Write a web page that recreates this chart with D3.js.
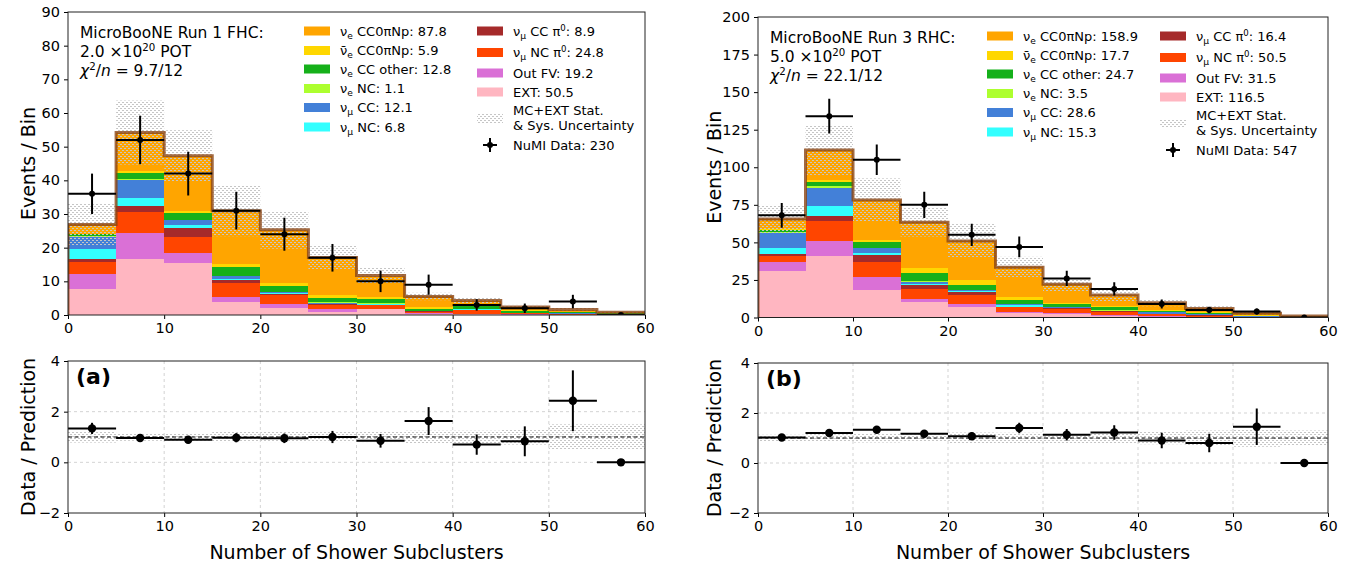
<!DOCTYPE html>
<html><head><meta charset="utf-8">
<script src="https://cdn.jsdelivr.net/npm/d3@7"></script>
<style>
body{margin:0;background:#fff}
svg{display:block}
text{font-family:"DejaVu Sans",sans-serif;fill:#000}
</style>
</head><body>
<svg id="c" width="1361" height="570"></svg>
<script>
// ---------------- DATA ----------------
const binLo = [0,5,10,15,20,25,30,35,40,45,50,55];
const binWidth = 5;
const xTicks = [0,10,20,30,40,50,60];
const yTicksRun1 = [0,10,20,30,40,50,60,70,80,90];
const yTicksRun3 = [0,25,50,75,100,125,150,175,200];
const yTicksRatio = [-2,0,2,4];

// Run 1 FHC stacked components (events / bin)
const r1_ext        = [7.7,16.6,15.5,3.9,2.1,0.9,1.7,0.3,0.2,0.1,0.05,0.0];
const r1_outfv      = [4.5,7.7,2.8,1.4,1.3,0.9,0.2,0.2,0.1,0.1,0.05,0.05];
const r1_ncpi0      = [3.5,6.4,4.8,4.2,2.4,1.2,1.0,0.5,1.2,0.3,0.2,0.05];
const r1_ccpi0      = [0.9,1.6,2.7,0.8,0.4,0.2,0.2,0.1,0.1,0.1,0.05,0.05];
const r1_numunc     = [3.0,2.4,0.9,0.5,0.2,0.2,0.1,0.05,0.1,0.05,0.05,0.05];
const r1_numucc     = [3.6,5.4,1.5,0.8,0.4,0.3,0.2,0.05,0.1,0.05,0.05,0.05];
const r1_nuenc      = [0.3,0.4,0.1,0.05,0.05,0.05,0.05,0.02,0.02,0.02,0.01,0.01];
const r1_nueccother = [0.5,1.6,1.9,2.65,1.75,1.25,1.25,0.68,0.98,0.58,0.34,0.19];
const r1_nuebar     = [0.2,0.7,0.7,0.9,0.9,0.8,0.6,0.4,0.5,0.2,0.1,0.05];
const r1_nue0pnp    = [2.7,11.4,16.4,15.8,15.8,11.3,6.4,3.2,1.0,0.9,0.7,0.3];
const r1_data       = [36,52,42,31,24,17,10,9,3,2,4,0];
const r1_dataErr    = [6.0,7.2,6.5,5.6,4.9,4.1,3.2,3.0,1.7,1.4,2.0,0];
const r1_unc        = [6.2,9.5,7.6,7.6,5.6,3.7,2.4,1.1,1.0,0.6,0.7,0.4];
const r1_ratio      = [1.34,0.96,0.89,0.97,0.95,1.0,0.85,1.63,0.7,0.83,2.43,0];
const r1_ratioErr   = [0.22,0.13,0.14,0.18,0.19,0.24,0.27,0.55,0.4,0.59,1.2,0];
const r1_ratioUnc   = [0.22,0.15,0.15,0.2,0.2,0.2,0.2,0.25,0.25,0.3,0.5,0.5];
const r1_legendTotals = [87.8,5.9,12.8,1.1,12.1,6.8,8.9,24.8,19.2,50.5];
const r1_dataTotal = 230;

// Run 3 RHC stacked components (events / bin)
const r3_ext        = [30.9,41.2,18.3,10.3,7.0,2.8,2.5,0.8,0.3,0.1,0.05,0];
const r3_outfv      = [6.0,9.7,8.7,2.0,2.0,1.1,0.5,1.0,0.9,0.2,0.05,0.05];
const r3_ncpi0      = [4.3,13.3,9.9,6.7,6.0,2.9,2.5,1.7,0.8,0.9,0.3,0.05];
const r3_ccpi0      = [1.1,3.1,4.9,2.4,2.2,0.4,0.7,0.5,0.3,0.3,0.1,0.05];
const r3_numunc     = [4.0,6.9,1.3,1.1,0.4,0.8,0.3,0.3,0.3,0.2,0.1,0.05];
const r3_numucc     = [9.7,12.0,3.0,1.3,0.7,0.8,0.3,0.3,0.8,0.3,0.1,0.05];
const r3_nuenc      = [0.8,1.0,0.4,0.3,0.2,0.2,0.1,0.1,0.1,0.1,0.05,0.05];
const r3_nueccother = [1.2,3.0,3.7,5.3,3.1,2.6,1.8,2.1,1.0,0.9,0.35,0.1];
const r3_nuebar     = [0.7,1.1,1.6,3.5,3.4,2.0,0.9,0.8,0.7,0.6,0.3,0.1];
const r3_nue0pnp    = [6.9,20.2,26.4,30.5,25.9,19.8,12.5,7.4,4.6,2.4,1.4,0.5];
const r3_data       = [68,134,105,75,55,47,26,19,9,5,4,0];
const r3_dataErr    = [8.2,11.6,10.2,8.7,7.4,6.9,5.1,4.4,3.0,2.2,2.0,0];
const r3_unc        = [9.3,16.6,14.4,9.5,11.3,7.0,4.5,4.4,2.3,1.5,0.8,0.4];
const r3_ratio      = [1.02,1.2,1.33,1.17,1.07,1.4,1.13,1.22,0.9,0.8,1.45,0];
const r3_ratioErr   = [0.12,0.1,0.13,0.14,0.15,0.21,0.23,0.29,0.31,0.37,0.73,0];
const r3_ratioUnc   = [0.13,0.15,0.18,0.15,0.22,0.21,0.2,0.22,0.25,0.3,0.35,0.3];
const r3_legendTotals = [158.9,17.7,24.7,3.5,28.6,15.3,16.4,50.5,31.5,116.5];
const r3_dataTotal = 547;

// ---------------- STYLE / LAYOUT ----------------
const keys = ["ext","outfv","ncpi0","ccpi0","numunc","numucc","nuenc","nueccother","nuebar","nue0pnp"];
const colors = {ext:"#ffb6c1",outfv:"#da70d6",ncpi0:"#ff4500",ccpi0:"#a52a2a",numunc:"#33ffff",
  numucc:"#4380d8",nuenc:"#adff2f",nueccother:"#15b01a",nuebar:"#ffd700",nue0pnp:"#ffa500"};
const legendCol1 = ["nue0pnp","nuebar","nueccother","nuenc","numucc","numunc"];
const legendCol2 = ["ccpi0","ncpi0","outfv","ext"];
const legendLabel = {
  nue0pnp:v=>[["ν"],["e","sub"],[" CC0πNp: "+v]],
  nuebar:v=>[["ν̄"],["e","sub"],[" CC0πNp: "+v]],
  nueccother:v=>[["ν"],["e","sub"],[" CC other: "+v]],
  nuenc:v=>[["ν"],["e","sub"],[" NC: "+v]],
  numucc:v=>[["ν"],["μ","sub"],[" CC: "+v]],
  numunc:v=>[["ν"],["μ","sub"],[" NC: "+v]],
  ccpi0:v=>[["ν"],["μ","sub"],[" CC π"],["0","sup"],[": "+v]],
  ncpi0:v=>[["ν"],["μ","sub"],[" NC π"],["0","sup"],[": "+v]],
  outfv:v=>[["Out FV: "+v]],
  ext:v=>[["EXT: "+v]]
};
const legendIdx = {nue0pnp:0,nuebar:1,nueccother:2,nuenc:3,numucc:4,numunc:5,ccpi0:6,ncpi0:7,outfv:8,ext:9};

const svg = d3.select("#c");
const defs = svg.append("defs");
const pat = defs.append("pattern").attr("id","hatch").attr("width",4).attr("height",4)
  .attr("patternUnits","userSpaceOnUse");
pat.append("rect").attr("x",0).attr("y",0).attr("width",2).attr("height",1).attr("fill","#c6c6c6");
pat.append("rect").attr("x",2).attr("y",2).attr("width",2).attr("height",1).attr("fill","#c6c6c6");

const FS_TICK = 14.5, FS_LAB = 19, FS_LEG = 13, FS_ANN = 15.5;

function rich(sel, segs){
  let off = 0;
  const fs = +sel.attr("data-fs");
  segs.forEach(([s,k])=>{
    const t = sel.append("tspan").text(s);
    let target = 0;
    if(k==="sub"){ t.attr("font-size","70%"); target = 0.26; }
    else if(k==="sup"){ t.attr("font-size","66%"); target = -0.36; }
    else if(k==="it"){ t.attr("font-style","italic"); }
    const d = target - off;
    if(d!==0) t.attr("dy", (d*fs)+"px");
    off = target;
  });
}

function drawPanel(c){
  const rows = binLo.map((lo,i)=>{
    const r = {lo};
    keys.forEach(k=>r[k]=c.comp[k][i]);
    return r;
  });
  const stacked = d3.stack().keys(keys)(rows);
  const totals = rows.map(r=>d3.sum(keys,k=>r[k]));

  const x = d3.scaleLinear().domain([0,60]).range([c.left,c.right]);
  const y = d3.scaleLinear().domain([0,c.ymax]).range([c.bottom,c.top]);
  const yr = d3.scaleLinear().domain([-2,4]).range([c.rBottom,c.rTop]);

  const cid = "clip"+c.id, rcid = "rclip"+c.id;
  defs.append("clipPath").attr("id",cid).append("rect")
    .attr("x",c.left).attr("y",c.top).attr("width",c.right-c.left).attr("height",c.bottom-c.top);
  defs.append("clipPath").attr("id",rcid).append("rect")
    .attr("x",c.left).attr("y",c.rTop).attr("width",c.right-c.left).attr("height",c.rBottom-c.rTop);

  // ---- top panel ----
  const g = svg.append("g").attr("clip-path",`url(#${cid})`);
  stacked.forEach(layer=>{
    g.selectAll(null).data(layer).enter().append("rect")
      .attr("x",d=>x(d.data.lo)).attr("width",d=>x(d.data.lo+binWidth)-x(d.data.lo))
      .attr("y",d=>y(d[1])).attr("height",d=>Math.max(0,y(d[0])-y(d[1])))
      .attr("fill",colors[layer.key]).attr("shape-rendering","crispEdges");
  });
  g.selectAll(null).data(binLo).enter().append("rect")
    .attr("x",(d)=>x(d)).attr("width",d=>x(d+binWidth)-x(d))
    .attr("y",(d,i)=>y(totals[i]+c.unc[i]))
    .attr("height",(d,i)=>y(Math.max(0,totals[i]-c.unc[i]))-y(totals[i]+c.unc[i]))
    .attr("fill","url(#hatch)");
  const pts = [[x(0),y(0)]];
  binLo.forEach((lo,i)=>{pts.push([x(lo),y(totals[i])]); pts.push([x(lo+binWidth),y(totals[i])]);});
  pts.push([x(60),y(0)]);
  g.append("path").attr("d",d3.line()(pts)).attr("fill","none")
    .attr("stroke","#8b4513").attr("stroke-opacity",0.8).attr("stroke-width",3).attr("stroke-linejoin","miter");
  binLo.forEach((lo,i)=>{
    const cx = x(lo+binWidth/2), cy = y(c.data[i]);
    g.append("line").attr("x1",x(lo)).attr("x2",x(lo+binWidth)).attr("y1",cy).attr("y2",cy)
      .attr("stroke","#000").attr("stroke-width",2);
    if(c.dataErr[i]>0) g.append("line").attr("x1",cx).attr("x2",cx)
      .attr("y1",y(c.data[i]-c.dataErr[i])).attr("y2",y(c.data[i]+c.dataErr[i]))
      .attr("stroke","#000").attr("stroke-width",2);
    g.append("circle").attr("cx",cx).attr("cy",cy).attr("r",3).attr("fill","#000");
  });

  const ax = svg.append("g").attr("transform",`translate(0,${c.bottom})`)
    .call(d3.axisBottom(x).tickValues(xTicks).tickSize(4).tickPadding(4).tickFormat(d3.format("d")));
  const ay = svg.append("g").attr("transform",`translate(${c.left},0)`)
    .call(d3.axisLeft(y).tickValues(c.yTicks).tickSize(4).tickPadding(4).tickFormat(d3.format("d")));
  [ax,ay].forEach(a=>{a.select(".domain").remove(); a.selectAll("text").attr("font-size",FS_TICK).attr("font-family","DejaVu Sans");});
  svg.append("rect").attr("x",c.left).attr("y",c.top).attr("width",c.right-c.left).attr("height",c.bottom-c.top)
    .attr("fill","none").attr("stroke","#222").attr("stroke-width",1);

  svg.append("text").attr("transform",`translate(${c.ylabX},${(c.top+c.bottom)/2}) rotate(-90)`)
    .attr("text-anchor","middle").attr("font-size",FS_LAB).text("Events / Bin");

  const ann = svg.append("g").attr("font-size",FS_ANN);
  ann.append("text").attr("x",c.left+12).attr("y",c.top+26).text(c.title);
  const t2 = ann.append("text").attr("x",c.left+12).attr("y",c.top+44.5).attr("data-fs",FS_ANN);
  rich(t2,[[c.pot+" ×10"],["20","sup"],[" POT"]]);
  const t3 = ann.append("text").attr("x",c.left+12).attr("y",c.top+63.5).attr("data-fs",FS_ANN);
  rich(t3,[["χ","it"],["2","sup"],["/"],["n","it"],[" = "+c.chi2]]);

  const lg = svg.append("g").attr("font-size",FS_LEG);
  const col1Off = [19,38.5,57,76.5,95.5,115], col2Off=[19,40.5,61,80];
  legendCol1.forEach((k,i)=>{
    const cy = c.top+col1Off[i];
    lg.append("rect").attr("x",c.right-341).attr("y",cy-4.5).attr("width",26).attr("height",9).attr("fill",colors[k]);
    const t = lg.append("text").attr("x",c.right-305).attr("y",cy+4.5).attr("data-fs",FS_LEG);
    rich(t, legendLabel[k](c.legendTotals[legendIdx[k]].toFixed(1)));
  });
  legendCol2.forEach((k,i)=>{
    const cy = c.top+col2Off[i];
    lg.append("rect").attr("x",c.right-168).attr("y",cy-4.5).attr("width",26).attr("height",9).attr("fill",colors[k]);
    const t = lg.append("text").attr("x",c.right-132).attr("y",cy+4.5).attr("data-fs",FS_LEG);
    rich(t, legendLabel[k](c.legendTotals[legendIdx[k]].toFixed(1)));
  });
  lg.append("rect").attr("x",c.right-168).attr("y",c.top+102).attr("width",26).attr("height",9).attr("fill","url(#hatch)");
  lg.append("text").attr("x",c.right-132).attr("y",c.top+103).text("MC+EXT Stat.");
  lg.append("text").attr("x",c.right-132).attr("y",c.top+118).text("& Sys. Uncertainty");
  const mx = c.right-155, my = c.top+133;
  lg.append("line").attr("x1",mx-7).attr("x2",mx+7).attr("y1",my).attr("y2",my).attr("stroke","#000").attr("stroke-width",2);
  lg.append("line").attr("x1",mx).attr("x2",mx).attr("y1",my-7).attr("y2",my+7).attr("stroke","#000").attr("stroke-width",2);
  lg.append("circle").attr("cx",mx).attr("cy",my).attr("r",3).attr("fill","#000");
  lg.append("text").attr("x",c.right-132).attr("y",my+4.5).text("NuMI Data: "+c.dataTotal);

  // ---- ratio panel ----
  const rg = svg.append("g");
  xTicks.slice(1,-1).forEach(v=>rg.append("line").attr("x1",x(v)).attr("x2",x(v)).attr("y1",c.rTop).attr("y2",c.rBottom)
    .attr("stroke","#c8c8c8").attr("stroke-width",0.8).attr("stroke-dasharray","3,3"));
  [0,2].forEach(v=>rg.append("line").attr("x1",c.left).attr("x2",c.right).attr("y1",yr(v)).attr("y2",yr(v))
    .attr("stroke","#c8c8c8").attr("stroke-width",0.8).attr("stroke-dasharray","3,3"));
  const rgc = svg.append("g").attr("clip-path",`url(#${rcid})`);
  rgc.selectAll(null).data(binLo).enter().append("rect")
    .attr("x",d=>x(d)).attr("width",d=>x(d+binWidth)-x(d))
    .attr("y",(d,i)=>yr(1+c.ratioUnc[i])).attr("height",(d,i)=>yr(1-c.ratioUnc[i])-yr(1+c.ratioUnc[i]))
    .attr("fill","url(#hatch)");
  rgc.append("line").attr("x1",c.left).attr("x2",c.right).attr("y1",yr(1)).attr("y2",yr(1))
    .attr("stroke","#000").attr("stroke-width",1.1).attr("stroke-dasharray","4,2.5");
  binLo.forEach((lo,i)=>{
    const cx = x(lo+binWidth/2), cy = yr(c.ratio[i]);
    rgc.append("line").attr("x1",x(lo)).attr("x2",x(lo+binWidth)).attr("y1",cy).attr("y2",cy)
      .attr("stroke","#000").attr("stroke-width",2);
    if(c.ratioErr[i]>0) rgc.append("line").attr("x1",cx).attr("x2",cx)
      .attr("y1",yr(c.ratio[i]-c.ratioErr[i])).attr("y2",yr(c.ratio[i]+c.ratioErr[i]))
      .attr("stroke","#000").attr("stroke-width",2);
    rgc.append("circle").attr("cx",cx).attr("cy",cy).attr("r",4.2).attr("fill","#000");
  });
  const rax = svg.append("g").attr("transform",`translate(0,${c.rBottom})`)
    .call(d3.axisBottom(x).tickValues(xTicks).tickSize(4).tickPadding(4).tickFormat(d3.format("d")));
  const ray = svg.append("g").attr("transform",`translate(${c.left},0)`)
    .call(d3.axisLeft(yr).tickValues(yTicksRatio).tickSize(4).tickPadding(4).tickFormat(d=>d<0?"−"+Math.abs(d):d));
  [rax,ray].forEach(a=>{a.select(".domain").remove(); a.selectAll("text").attr("font-size",FS_TICK).attr("font-family","DejaVu Sans");});
  svg.append("rect").attr("x",c.left).attr("y",c.rTop).attr("width",c.right-c.left).attr("height",c.rBottom-c.rTop)
    .attr("fill","none").attr("stroke","#222").attr("stroke-width",1);
  svg.append("text").attr("x",c.left+8).attr("y",c.rTop+23).attr("font-family","Liberation Serif, DejaVu Serif, serif")
    .attr("font-weight","bold").attr("font-size",22).text(c.tag);
  svg.append("text").attr("transform",`translate(${c.ylabX},${(c.rTop+c.rBottom)/2}) rotate(-90)`)
    .attr("text-anchor","middle").attr("font-size",FS_LAB).text("Data / Prediction");
  svg.append("text").attr("x",(c.left+c.right)/2).attr("y",559).attr("text-anchor","middle")
    .attr("font-size",FS_LAB).text("Number of Shower Subclusters");
}

drawPanel({id:1,left:68,right:645,top:12,bottom:315,ymax:90,yTicks:yTicksRun1,rTop:361,rBottom:513,ylabX:35,
  comp:{ext:r1_ext,outfv:r1_outfv,ncpi0:r1_ncpi0,ccpi0:r1_ccpi0,numunc:r1_numunc,numucc:r1_numucc,nuenc:r1_nuenc,
    nueccother:r1_nueccother,nuebar:r1_nuebar,nue0pnp:r1_nue0pnp},
  data:r1_data,dataErr:r1_dataErr,unc:r1_unc,ratio:r1_ratio,ratioErr:r1_ratioErr,ratioUnc:r1_ratioUnc,
  legendTotals:r1_legendTotals,dataTotal:r1_dataTotal,title:"MicroBooNE Run 1 FHC:",pot:"2.0",chi2:"9.7/12",tag:"(a)"});
drawPanel({id:3,left:758,right:1328,top:17,bottom:317.5,ymax:200,yTicks:yTicksRun3,rTop:363,rBottom:513,ylabX:721,
  comp:{ext:r3_ext,outfv:r3_outfv,ncpi0:r3_ncpi0,ccpi0:r3_ccpi0,numunc:r3_numunc,numucc:r3_numucc,nuenc:r3_nuenc,
    nueccother:r3_nueccother,nuebar:r3_nuebar,nue0pnp:r3_nue0pnp},
  data:r3_data,dataErr:r3_dataErr,unc:r3_unc,ratio:r3_ratio,ratioErr:r3_ratioErr,ratioUnc:r3_ratioUnc,
  legendTotals:r3_legendTotals,dataTotal:r3_dataTotal,title:"MicroBooNE Run 3 RHC:",pot:"5.0",chi2:"22.1/12",tag:"(b)"});
</script>
</body></html>
